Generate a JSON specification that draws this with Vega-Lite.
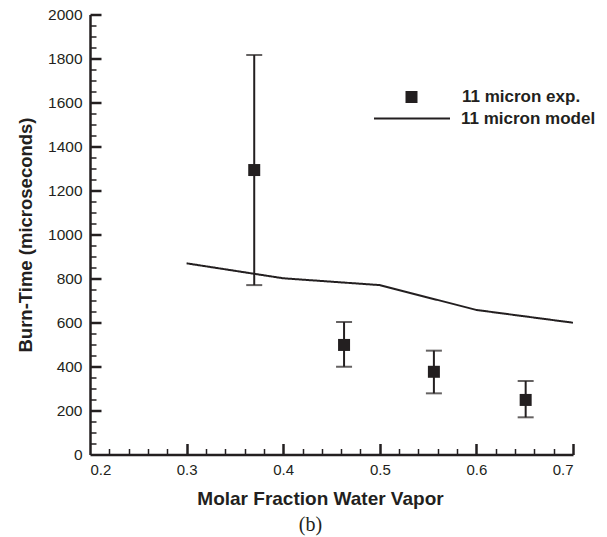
{
  "$schema": "https://vega.github.io/schema/vega-lite/v6.json",
  "width": 483,
  "height": 440,
  "autosize": {"type": "none"},
  "padding": {"left": 90, "top": 14.5, "right": 34, "bottom": 82.5},
  "background": "white",
  "title": {"text": "(b)", "orient": "bottom", "font": "Liberation Serif", "fontSize": 20, "fontWeight": "normal", "color": "#231f20", "offset": 6, "dx": -21},
  "datasets": {
    "exp": [
      {"fraction": 0.37, "burn": 1293, "lo": 770, "hi": 1816, "series": "11 micron exp."},
      {"fraction": 0.463, "burn": 498, "lo": 399, "hi": 602, "series": "11 micron exp."},
      {"fraction": 0.556, "burn": 376, "lo": 278, "hi": 472, "series": "11 micron exp."},
      {"fraction": 0.651, "burn": 248, "lo": 169, "hi": 334, "series": "11 micron exp."}
    ],
    "model": [
      {"fraction": 0.3, "burn": 869, "series": "11 micron model"},
      {"fraction": 0.4, "burn": 801, "series": "11 micron model"},
      {"fraction": 0.5, "burn": 770, "series": "11 micron model"},
      {"fraction": 0.6, "burn": 657, "series": "11 micron model"},
      {"fraction": 0.7, "burn": 599, "series": "11 micron model"}
    ]
  },
  "layer": [
    {
      "data": {"name": "exp"},
      "mark": {"type": "rule", "color": "#231f20", "strokeWidth": 2},
      "encoding": {
        "x": {"field": "fraction", "type": "quantitative", "scale": {"domain": [0.2, 0.7], "nice": false, "zero": false},
          "axis": {"orient": "bottom", "title": "Molar Fraction Water Vapor", "values": [0.2, 0.3, 0.4, 0.5, 0.6, 0.7], "format": ".1f", "ticks": false, "grid": false,
            "domainColor": "#231f20", "domainWidth": 2.5, "labelFont": "Liberation Sans", "labelFontSize": 15, "labelColor": "#231f20", "labelPadding": 8,
            "titleFont": "Liberation Sans", "titleFontSize": 19, "titleFontWeight": "bold", "titleColor": "#231f20", "titlePadding": 12, "titleX": 230}},
        "y": {"field": "lo", "type": "quantitative", "scale": {"domain": [0, 2000], "nice": false},
          "axis": {"orient": "left", "title": "Burn-Time (microseconds)", "values": [0, 200, 400, 600, 800, 1000, 1200, 1400, 1600, 1800, 2000], "format": "d", "ticks": false, "grid": false,
            "domainColor": "#231f20", "domainWidth": 2.5, "labelFont": "Liberation Sans", "labelFontSize": 15.5, "labelColor": "#231f20", "labelPadding": 8,
            "titleFont": "Liberation Sans", "titleFontSize": 18.5, "titleFontWeight": "bold", "titleColor": "#231f20", "titlePadding": 12}},
        "y2": {"field": "hi"}
      }
    },
    {
      "data": {"name": "exp"},
      "mark": {"type": "tick", "orient": "horizontal", "color": "#231f20", "size": 16, "thickness": 2},
      "encoding": {
        "x": {"field": "fraction", "type": "quantitative", "scale": {"domain": [0.2, 0.7], "nice": false, "zero": false}, "axis": null},
        "y": {"field": "lo", "type": "quantitative", "scale": {"domain": [0, 2000], "nice": false}, "axis": null}
      }
    },
    {
      "data": {"name": "exp"},
      "mark": {"type": "tick", "orient": "horizontal", "color": "#231f20", "size": 16, "thickness": 2},
      "encoding": {
        "x": {"field": "fraction", "type": "quantitative", "scale": {"domain": [0.2, 0.7], "nice": false, "zero": false}, "axis": null},
        "y": {"field": "hi", "type": "quantitative", "scale": {"domain": [0, 2000], "nice": false}, "axis": null}
      }
    },
    {
      "data": {"name": "model"},
      "mark": {"type": "line", "color": "#231f20", "strokeWidth": 2},
      "encoding": {
        "x": {"field": "fraction", "type": "quantitative", "scale": {"domain": [0.2, 0.7], "nice": false, "zero": false},
          "axis": {"orient": "bottom", "title": null, "values": [0.3, 0.4, 0.5, 0.6, 0.7], "labels": false, "domain": false, "grid": false, "ticks": true, "tickSize": -11, "tickWidth": 2.5, "tickColor": "#231f20"}},
        "y": {"field": "burn", "type": "quantitative", "scale": {"domain": [0, 2000], "nice": false},
          "axis": {"orient": "left", "title": null, "values": [200, 400, 600, 800, 1000, 1200, 1400, 1600, 1800, 2000], "labels": false, "domain": false, "grid": false, "ticks": true, "tickSize": -11, "tickWidth": 2.5, "tickColor": "#231f20"}},
        "strokeDash": {"field": "series", "type": "nominal",
          "scale": {"domain": ["11 micron model"], "range": [[1, 0]]},
          "legend": {"orient": "none", "legendX": 283, "legendY": 65, "title": null, "padding": 0,
            "symbolSize": 5776, "symbolStrokeWidth": 2, "symbolStrokeColor": "#231f20",
            "labelFont": "Liberation Sans", "labelFontSize": 17, "labelFontWeight": "bold", "labelColor": "#231f20", "labelOffset": 10}}
      }
    },
    {
      "data": {"name": "exp"},
      "mark": {"type": "point", "filled": true, "color": "#231f20", "opacity": 1, "size": 144, "strokeWidth": 0},
      "encoding": {
        "x": {"field": "fraction", "type": "quantitative", "scale": {"domain": [0.2, 0.7], "nice": false, "zero": false},
          "axis": {"orient": "bottom", "title": null, "values": [0.22, 0.24, 0.26, 0.28, 0.32, 0.34, 0.36, 0.38, 0.42, 0.44, 0.46, 0.48, 0.52, 0.54, 0.56, 0.58, 0.62, 0.64, 0.66, 0.68], "labels": false, "domain": false, "grid": false, "ticks": true, "tickSize": -6, "tickWidth": 1.5, "tickColor": "#231f20"}},
        "y": {"field": "burn", "type": "quantitative", "scale": {"domain": [0, 2000], "nice": false},
          "axis": {"orient": "left", "title": null, "values": [50, 100, 150, 250, 300, 350, 450, 500, 550, 650, 700, 750, 850, 900, 950, 1050, 1100, 1150, 1250, 1300, 1350, 1450, 1500, 1550, 1650, 1700, 1750, 1850, 1900, 1950], "labels": false, "domain": false, "grid": false, "ticks": true, "tickSize": -6, "tickWidth": 1.5, "tickColor": "#231f20"}},
        "shape": {"field": "series", "type": "nominal",
          "scale": {"domain": ["11 micron exp."], "range": ["square"]},
          "legend": {"orient": "none", "legendX": 313, "legendY": 74, "title": null, "padding": 0,
            "symbolSize": 144, "symbolStrokeWidth": 0, "symbolFillColor": "#231f20", "symbolOpacity": 1,
            "labelFont": "Liberation Sans", "labelFontSize": 17, "labelFontWeight": "bold", "labelColor": "#231f20", "labelOffset": 42}}
      }
    }
  ],
  "resolve": {"axis": {"x": "independent", "y": "independent"}},
  "config": {"view": {"stroke": null}, "axis": {"grid": false}}
}
